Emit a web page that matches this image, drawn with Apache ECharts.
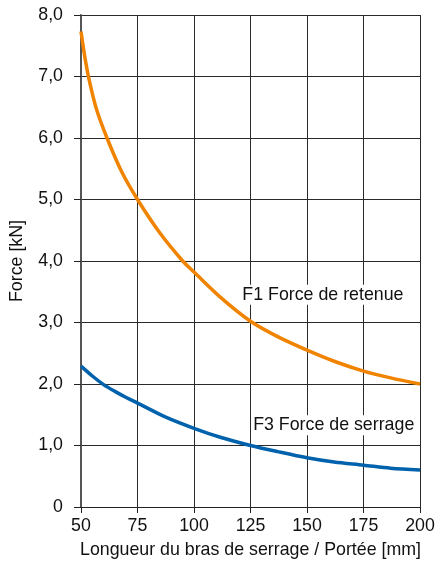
<!DOCTYPE html>
<html>
<head>
<meta charset="utf-8">
<script src="https://cdn.jsdelivr.net/npm/echarts@6/dist/echarts.min.js"></script>
<style>
  html, body { margin: 0; padding: 0; background: #fff; }
  #chart { width: 438px; height: 569px; }
</style>
</head>
<body>
<div id="chart"></div>
<script>
// Arm length (mm) vs. force (kN)
const f1Length = [50, 52, 54, 57, 61.5, 68, 75, 85, 95, 100, 112, 125, 137, 150, 162, 175, 187, 200];
const f1Force  = [7.73, 7.25, 6.88, 6.45, 6.0, 5.45, 5.0, 4.45, 4.0, 3.82, 3.4, 3.02, 2.77, 2.55, 2.37, 2.21, 2.1, 2.0];

const f3Length = [50, 55, 60, 65, 70, 75, 87, 100, 112, 125, 137, 150, 162, 175, 187, 200];
const f3Force  = [2.29, 2.13, 1.99, 1.88, 1.78, 1.69, 1.47, 1.28, 1.13, 1.0, 0.9, 0.8, 0.73, 0.68, 0.63, 0.6];

const f1Name = 'F1 Force de retenue';
const f3Name = 'F3 Force de serrage';
const f1LabelAt = [120.5, 3.45];
const f3LabelAt = [125.3, 1.33];

const xTitle = 'Longueur du bras de serrage / Portée [mm]';
const yTitle = 'Force [kN]';

const FONT = '"Liberation Sans", Arial, Helvetica, sans-serif';
const zip = (xs, ys) => xs.map((x, i) => [x, ys[i]]);

const curveLabel = (coord, text) => ({
  symbol: 'circle',
  symbolSize: 0,
  silent: true,
  data: [{
    coord: coord,
    label: {
      show: true,
      position: 'right',
      distance: 0,
      formatter: text,
      color: '#111',
      fontFamily: FONT,
      fontSize: 17.8,
      backgroundColor: '#fff',
      padding: [1, 2, 1, 2]
    }
  }]
});

const chart = echarts.init(document.getElementById('chart'), null, { renderer: 'canvas' });
chart.setOption({
  animation: false,
  backgroundColor: '#fff',
  grid: { left: 81, right: 18, top: 15, bottom: 62 },
  xAxis: {
    type: 'value',
    min: 50, max: 200, interval: 25,
    name: xTitle,
    nameLocation: 'middle',
    nameGap: 34,
    nameTextStyle: { fontFamily: FONT, fontSize: 17.8, color: '#111' },
    axisLine: { show: true, lineStyle: { color: '#222', width: 1 } },
    axisTick: { show: true, length: 6, lineStyle: { color: '#222' } },
    axisLabel: { fontFamily: FONT, fontSize: 17.8, color: '#111', margin: 10 },
    splitLine: { show: true, lineStyle: { color: '#2a2a2a', width: 1 } }
  },
  yAxis: {
    type: 'value',
    min: 0, max: 8, interval: 1,
    name: yTitle,
    nameLocation: 'middle',
    nameGap: 55,
    nameTextStyle: { fontFamily: FONT, fontSize: 17.8, color: '#111' },
    axisLine: { show: true, lineStyle: { color: '#555', width: 2 } },
    axisTick: { show: true, length: 7, lineStyle: { color: '#222' } },
    axisLabel: {
      fontFamily: FONT, fontSize: 17.8, color: '#111', margin: 18,
      formatter: v => v === 0 ? '0' : v.toFixed(1).replace('.', ',')
    },
    splitLine: { show: true, lineStyle: { color: '#2a2a2a', width: 1 } }
  },
  series: [
    {
      name: f1Name,
      type: 'line',
      data: zip(f1Length, f1Force),
      smooth: 0.3,
      showSymbol: false,
      lineStyle: { color: '#F08300', width: 3.5 },
      z: 3,
      markPoint: curveLabel(f1LabelAt, f1Name)
    },
    {
      name: f3Name,
      type: 'line',
      data: zip(f3Length, f3Force),
      smooth: 0.3,
      showSymbol: false,
      lineStyle: { color: '#0062AC', width: 3.5 },
      z: 3,
      markPoint: curveLabel(f3LabelAt, f3Name)
    }
  ]
});
</script>
</body>
</html>
